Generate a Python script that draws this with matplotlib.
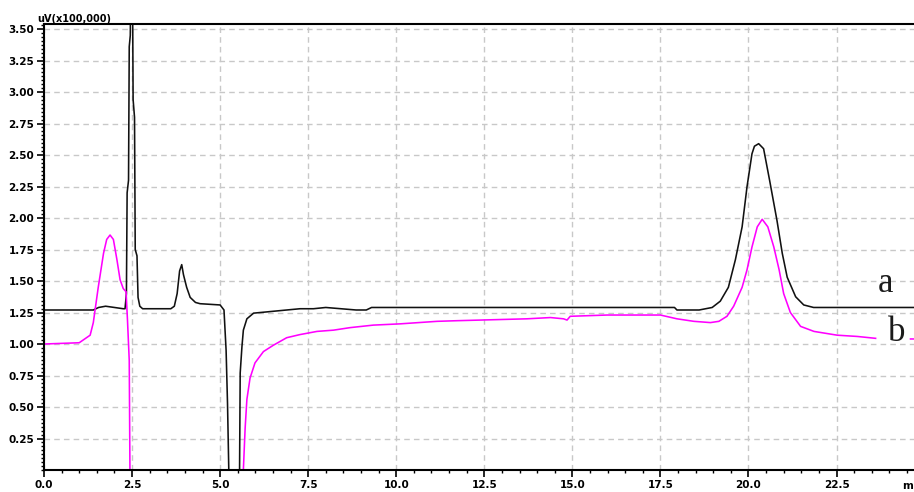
import numpy as np
import matplotlib
matplotlib.use("Agg")
import matplotlib.pyplot as plt
from matplotlib.ticker import MultipleLocator, AutoMinorLocator

# chromatogram a (black), retention time in min, signal in uV x 100,000
a_time = [0.00, 1.40, 1.55, 1.75, 2.00, 2.25, 2.30, 2.34, 2.36, 2.40, 2.42, 2.45,
          2.47, 2.49, 2.51, 2.53, 2.57, 2.59, 2.64, 2.67, 2.72, 2.80, 3.20, 3.60,
          3.70, 3.78, 3.85, 3.91, 3.96, 4.05, 4.15, 4.30, 4.43, 5.00, 5.11, 5.17,
          5.21, 5.26, 5.35, 5.50, 5.55, 5.57, 5.62, 5.66, 5.76, 5.95, 6.33, 6.89,
          7.27, 7.65, 8.00, 8.86, 9.15, 9.30, 17.90, 17.97, 18.60, 18.97, 19.20,
          19.43, 19.63, 19.82, 19.96, 20.10, 20.17, 20.29, 20.43, 20.60, 20.81,
          20.96, 21.10, 21.34, 21.57, 21.85, 23.00, 24.70]
a_signal = [1.27, 1.27, 1.29, 1.30, 1.29, 1.28, 1.28, 1.40, 2.20, 2.30, 3.36, 3.45,
            4.20, 4.60, 4.00, 2.94, 2.80, 1.75, 1.70, 1.37, 1.30, 1.28, 1.28, 1.28,
            1.30, 1.40, 1.58, 1.63, 1.55, 1.45, 1.37, 1.33, 1.32, 1.31, 1.27, 0.95,
            0.53, -0.20, -0.60, -0.40, -0.10, 0.77, 0.98, 1.11, 1.20, 1.245, 1.255, 1.27,
            1.28, 1.28, 1.29, 1.27, 1.27, 1.29, 1.29, 1.27, 1.27, 1.29, 1.34,
            1.45, 1.67, 1.93, 2.25, 2.51, 2.57, 2.59, 2.55, 2.30, 1.98,
            1.72, 1.53, 1.375, 1.31, 1.29, 1.29, 1.29]

# chromatogram b (magenta)
b_time = [0.00, 1.00, 1.31, 1.40, 1.45, 1.54, 1.69, 1.78, 1.875, 1.97, 2.07, 2.16,
          2.25, 2.33, 2.37, 2.42, 2.44, 2.50, 5.60, 5.66, 5.71, 5.76, 5.85, 5.99,
          6.23, 6.51, 6.89, 7.27, 7.75, 8.22, 8.69, 9.35, 10.11, 11.16, 11.72,
          13.71, 14.38, 14.75, 14.85, 14.94, 15.99, 17.50, 17.97, 18.45, 18.92,
          19.16, 19.39, 19.58, 19.82, 19.96, 20.10, 20.25, 20.39, 20.55, 20.72,
          20.87, 21.00, 21.19, 21.48, 21.86, 22.52, 23.09, 23.61, np.nan, 24.60, 24.70]
b_signal = [1.00, 1.01, 1.07, 1.17, 1.27, 1.45, 1.72, 1.83, 1.865, 1.83, 1.67, 1.51,
            1.44, 1.415, 1.19, 0.87, 0.00, -0.60, -0.60, 0.00, 0.33, 0.56, 0.73, 0.85,
            0.94, 0.99, 1.05, 1.075, 1.10, 1.11, 1.13, 1.15, 1.16, 1.18, 1.185,
            1.20, 1.21, 1.20, 1.19, 1.22, 1.23, 1.23, 1.20, 1.18, 1.17,
            1.18, 1.22, 1.30, 1.45, 1.59, 1.77, 1.93, 1.99, 1.93, 1.77,
            1.59, 1.40, 1.25, 1.14, 1.10, 1.07, 1.06, 1.045, np.nan, 1.04, 1.04]

fig = plt.figure(figsize=(9.14, 4.92), dpi=100)
ax = fig.add_axes([44 / 914, 22 / 492, 1 - 44 / 914, 446 / 492])

ax.plot(a_time, a_signal, color='#111111', lw=1.15)
ax.plot(b_time, b_signal, color='#ff00ff', lw=1.15)

ax.set_xlim(0, 24.7)
ax.set_ylim(0, 3.54)

ax.xaxis.set_major_locator(MultipleLocator(2.5))
ax.xaxis.set_minor_locator(AutoMinorLocator(5))
ax.yaxis.set_major_locator(MultipleLocator(0.25))
ax.yaxis.set_minor_locator(AutoMinorLocator(8))

ax.grid(True, which='major', color='#c8c8c8', linestyle=(0, (4, 3)), lw=1.0)
ax.set_axisbelow(True)

ax.spines['right'].set_visible(False)
for s in ['left', 'bottom', 'top']:
    ax.spines[s].set_linewidth(1.5)

ax.tick_params(which='major', length=5, width=1.2, pad=2, labelsize=7.5)
ax.tick_params(which='minor', length=2.5, width=1.0)

yt = np.arange(0.25, 3.51, 0.25)
ax.set_yticks(yt)
ax.set_yticklabels(['%.2f' % v for v in yt], fontweight='bold')
xt = np.arange(0, 22.6, 2.5)
ax.set_xticks(xt)
ax.set_xticklabels(['%.1f' % v for v in xt], fontweight='bold')

fig.text(37 / 914, 1 - 22 / 492, 'uV(x100,000)', fontsize=7, fontweight='bold',
         ha='left', va='baseline')
fig.text(908 / 914, 1 - 489 / 492, 'm', fontsize=7.5, fontweight='bold',
         ha='center', va='baseline')

ax.text(23.89, 1.41, 'a', fontsize=25, family='Liberation Serif',
        ha='center', va='baseline', color='#1a1a1a')
ax.text(24.2, 1.02, 'b', fontsize=25, family='Liberation Serif',
        ha='center', va='baseline', color='#1a1a1a')

fig.savefig('out.png', dpi=100)
